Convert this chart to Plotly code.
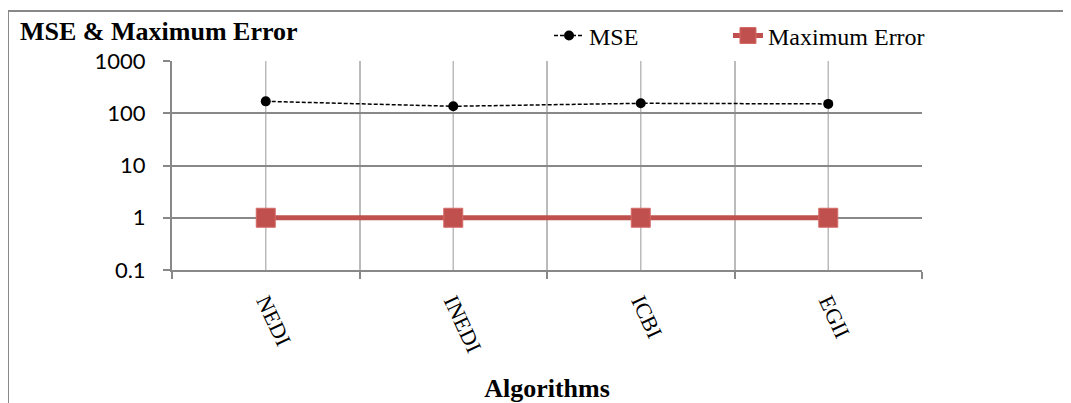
import plotly.graph_objects as go

categories = ["NEDI", "INEDI", "ICBI", "EGII"]
mse_values = [169, 136, 155, 151]
max_error_values = [1, 1, 1, 1]
y_tick_values = [0.1, 1, 10, 100, 1000]
y_tick_labels = ["0.1", "1", "10", "100", "1000"]

SERIF = "Liberation Serif, Times New Roman, serif"
SANS = "Lato, Carlito, Calibri, sans-serif"

fig = go.Figure()
fig.add_trace(go.Scatter(
    x=categories, y=mse_values, name="MSE", mode="lines+markers",
    line=dict(color="black", width=1.5, dash="4px,2px"),
    marker=dict(symbol="circle", size=10, color="black"),
    legend="legend",
))
fig.add_trace(go.Scatter(
    x=categories, y=max_error_values, name="Maximum Error", mode="lines+markers",
    line=dict(color="#C0504D", width=5),
    marker=dict(symbol="square", size=19, color="#C0504D",
                line=dict(color="#D46A67", width=1)),
    legend="legend2",
))

# center gridlines at each category
for c in categories:
    fig.add_shape(type="line", xref="x", yref="paper", x0=c, x1=c, y0=0, y1=1,
                  line=dict(color="#BBBBBB", width=1.5), layer="below")

# outer chart border
fig.add_shape(type="rect", xref="paper", yref="paper",
              x0=-0.2187, x1=2, y0=-1, y1=1.239,
              line=dict(color="#888888", width=2))

legend_common = dict(orientation="h", yanchor="middle", xanchor="left", y=1.12,
                     font=dict(family=SERIF, size=24, color="black"),
                     bgcolor="rgba(0,0,0,0)")

fig.update_layout(
    width=1063, height=395,
    margin=dict(l=164, r=149, t=53, b=133, autoexpand=False),
    paper_bgcolor="white", plot_bgcolor="white",
    showlegend=True,
    legend=dict(x=0.5027, **legend_common),
    legend2=dict(x=0.7413, **legend_common),
    annotations=[dict(text="<b>MSE & Maximum Error</b>", xref="paper", yref="paper",
                      x=-0.2053, y=1.139, xanchor="left", yanchor="middle",
                      showarrow=False, font=dict(family=SERIF, size=26, color="black"))],
)
fig.update_xaxes(
    type="category", range=[-0.5, 3.5], automargin=False,
    tickson="boundaries", ticks="outside", ticklen=7, tickcolor="#888888", tickwidth=1.5,
    showgrid=True, gridcolor="#BBBBBB", gridwidth=1.5,
    showline=True, linecolor="#888888", linewidth=2,
    tickangle=65, tickfont=dict(family=SERIF, size=22, color="black"),
    ticklabelstandoff=8,
    title=dict(text="<b>Algorithms</b>", font=dict(family=SERIF, size=26, color="black"), standoff=24),
    zeroline=False,
)
fig.update_yaxes(
    type="log", range=[-1, 3], automargin=False,
    tickvals=y_tick_values, ticktext=y_tick_labels,
    ticks="outside", ticklen=7, tickcolor="#888888", tickwidth=1.5,
    showgrid=True, gridcolor="#888888", gridwidth=1.5,
    showline=True, linecolor="#888888", linewidth=2,
    tickfont=dict(family=SANS, size=22, color="black"),
    ticklabelstandoff=13,
    zeroline=False,
)

fig.write_html("out.html")
